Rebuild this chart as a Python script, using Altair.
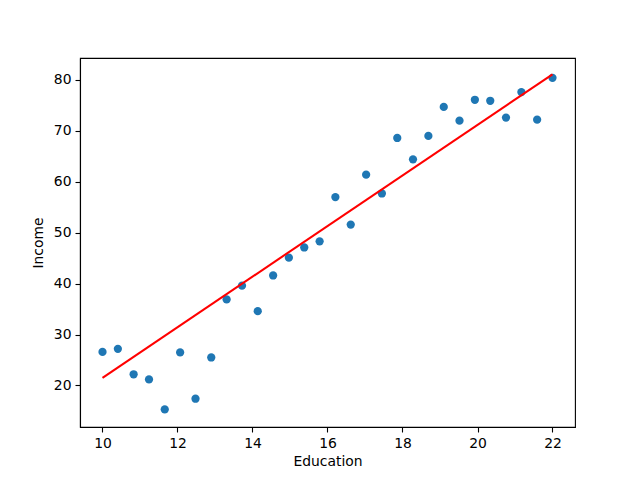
import altair as alt
import pandas as pd

education = [10.0, 10.41, 10.83, 11.24, 11.66, 12.07, 12.48, 12.9, 13.31, 13.72,
             14.14, 14.55, 14.97, 15.38, 15.79, 16.21, 16.62, 17.03, 17.45, 17.86,
             18.28, 18.69, 19.1, 19.52, 19.93, 20.34, 20.76, 21.17, 21.59, 22.0]
income = [26.6, 27.2, 22.2, 21.2, 15.3, 26.5, 17.4, 25.5, 36.9, 39.6,
          34.6, 41.6, 45.1, 47.1, 48.3, 57.0, 51.6, 61.4, 57.7, 68.6,
          64.4, 69.0, 74.7, 72.0, 76.1, 75.9, 72.6, 77.6, 72.2, 80.4]

# fitted line endpoints
fit_education = [10.0, 22.0]
fit_income = [21.5, 81.1]

df = pd.DataFrame({"Education": education, "Income": income})
fit_df = pd.DataFrame({"Education": fit_education, "Income": fit_income})

FONT = "DejaVu Sans"

xscale = alt.Scale(domain=[9.4, 22.6], nice=False, zero=False)
yscale = alt.Scale(domain=[11.85, 84.3], nice=False, zero=False)

xaxis = alt.Axis(values=[10, 12, 14, 16, 18, 20, 22], title="Education", grid=False,
                 tickColor="black", tickSize=5, tickWidth=1.1, domainColor="black", domainWidth=1.1,
                 labelFont=FONT, labelFontSize=13.9, labelColor="black", labelPadding=4,
                 titleFont=FONT, titleFontSize=13.9, titleFontWeight="normal", titleColor="black",
                 titlePadding=5, labelFlush=False)
yaxis = alt.Axis(values=[20, 30, 40, 50, 60, 70, 80], title="Income", grid=False,
                 tickColor="black", tickSize=5, tickWidth=1.1, domainColor="black", domainWidth=1.1,
                 labelFont=FONT, labelFontSize=13.9, labelColor="black", labelPadding=4,
                 titleFont=FONT, titleFontSize=13.9, titleFontWeight="normal", titleColor="black",
                 titlePadding=8, labelFlush=False)

points = alt.Chart(df).mark_point(filled=True, size=68, color="#1f77b4", opacity=1).encode(
    x=alt.X("Education:Q", scale=xscale, axis=xaxis),
    y=alt.Y("Income:Q", scale=yscale, axis=yaxis),
)

line = alt.Chart(fit_df).mark_line(color="red", strokeWidth=2.08).encode(
    x=alt.X("Education:Q", scale=xscale),
    y=alt.Y("Income:Q", scale=yscale),
)

chart = alt.layer(points, line).properties(
    width=495, height=369,
    autosize=alt.AutoSizeParams(type="none"),
    padding={"left": 80, "top": 58, "right": 65, "bottom": 53},
    background="white",
).configure_view(stroke="black", strokeWidth=1.1)

chart.save("out.html", embed_options={"renderer": "svg", "actions": False})
